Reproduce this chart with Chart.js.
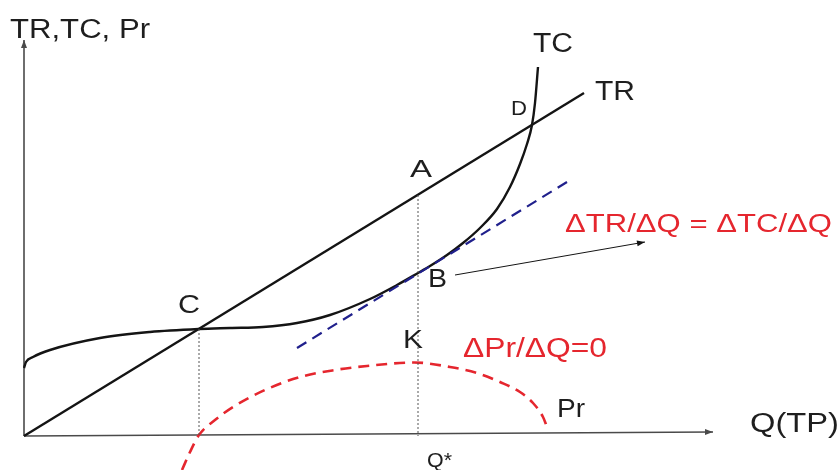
<!DOCTYPE html>
<html>
<head>
<meta charset="utf-8">
<script src="https://cdn.jsdelivr.net/npm/chart.js@4"></script>
<style>
html,body{margin:0;padding:0;background:#fff;}
#c{display:block;}
</style>
</head>
<body>
<canvas id="c" width="839" height="470"></canvas>
<script>
// ===== curves (Q, money) =====
const TR_Q = [0, 56.0];
const TR_V = [0, 34.3];
const TC_Q = [0, 0.2, 0.9, 2.6, 7.6, 12.6, 17.5, 20.6, 23.9, 27.3, 30.6, 34.6, 37.3, 39.4, 40.6, 42.3, 43.9, 45.6, 47.3, 48.6, 49.6, 50.3, 50.8, 51.1, 51.4];
const TC_V = [6.8, 7.4, 7.9, 8.6, 9.8, 10.4, 10.7, 10.8, 10.9, 11.3, 12.1, 13.7, 15.1, 16.3, 17.0, 18.1, 19.3, 20.8, 22.7, 24.9, 27.2, 29.2, 31.1, 33.3, 36.9];
const PR_Q = [15.8, 16.6, 17.5, 19.1, 20.9, 24.1, 27.6, 31.1, 34.3, 39.0, 42.6, 45.3, 47.6, 49.6, 50.9, 51.9, 52.3];
const PR_V = [-3.4, -1.6, 0.1, 1.6, 2.9, 4.6, 5.9, 6.6, 7.0, 7.35, 6.9, 6.3, 5.4, 4.4, 3.3, 1.9, 0.9];
// tangent at B (parallel to TR)
const TAN_Q = [27.3, 54.3];
const TAN_V = [8.8, 25.4];
// guide points: C, A/B/K (Q*)
const Q_C = 17.5, V_C = 10.7;
const Q_STAR = 39.4, V_A = 24.1;
// pointer from B to the marginal condition label
const PTR_Q = [43.1, 62.1];
const PTR_V = [16.1, 19.4];

const C = {ink:'#141414', axis:'#4a4a4a', red:'#e5262e', navy:'#20208c', text:'#1e1e1e'};
const pts = (xs, ys) => xs.map((x, i) => ({x, y: ys[i]}));

// text labels: left edge + baseline in data units, width in px
const LABELS = [
  {t:'TR,TC, Pr', x:-1.4, y:39.8, s:27, w:140, c:C.text},
  {t:'TC', x:50.9, y:38.4, s:27, w:40, c:C.text},
  {t:'TR', x:57.1, y:33.6, s:27, w:40, c:C.text},
  {t:'D', x:48.7, y:32.1, s:21, w:16, c:C.text},
  {t:'A', x:38.6, y:25.9, s:24, w:22, c:C.text},
  {t:'B', x:40.4, y:14.9, s:25, w:19, c:C.text},
  {t:'C', x:15.4, y:12.3, s:25, w:22, c:C.text},
  {t:'K', x:37.9, y:8.8, s:25, w:20, c:C.text},
  {t:'ΔPr/ΔQ=0', x:43.9, y:7.9, s:27, w:144, c:C.red},
  {t:'Pr', x:53.3, y:1.9, s:26, w:28, c:C.text},
  {t:'Q(TP)', x:72.6, y:0.4, s:27, w:89, c:C.text},
  {t:'Q*', x:40.3, y:-3.1, s:21, w:25, c:C.text},
  {t:'ΔTR/ΔQ = ΔTC/ΔQ', x:54.1, y:20.4, s:26, w:267, c:C.red}
];

function arrowHead(ctx, x1, y1, x2, y2, len, half){
  const a = Math.atan2(y2 - y1, x2 - x1);
  ctx.beginPath();
  ctx.moveTo(x2, y2);
  ctx.lineTo(x2 - len*Math.cos(a) + half*Math.sin(a), y2 - len*Math.sin(a) - half*Math.cos(a));
  ctx.lineTo(x2 - len*Math.cos(a) - half*Math.sin(a), y2 - len*Math.sin(a) + half*Math.cos(a));
  ctx.closePath();
  ctx.fill();
}

const decor = {
  id:'decor',
  beforeDatasetsDraw(chart){
    const {ctx, scales:{x, y}} = chart;
    const X = v => x.getPixelForValue(v), Y = v => y.getPixelForValue(v);
    ctx.save();
    ctx.strokeStyle = C.axis; ctx.fillStyle = C.axis; ctx.lineWidth = 1.6;
    // y axis
    ctx.beginPath(); ctx.moveTo(X(0), Y(0)); ctx.lineTo(X(0), Y(39.6)); ctx.stroke();
    arrowHead(ctx, X(0), Y(0), X(0), Y(39.6), 8, 3);
    // x axis
    ctx.beginPath(); ctx.moveTo(X(0), Y(0)); ctx.lineTo(X(68.9), Y(0.4)); ctx.stroke();
    arrowHead(ctx, X(0), Y(0), X(68.9), Y(0.4), 8, 3);
    ctx.restore();
  },
  afterDatasetsDraw(chart){
    const {ctx, scales:{x, y}} = chart;
    const X = v => x.getPixelForValue(v), Y = v => y.getPixelForValue(v);
    ctx.save();
    ctx.fillStyle = C.ink;
    arrowHead(ctx, X(PTR_Q[0]), Y(PTR_V[0]), X(PTR_Q[1]), Y(PTR_V[1]), 8, 3);
    ctx.textBaseline = 'alphabetic';
    ctx.textAlign = 'left';
    LABELS.forEach(l => {
      ctx.font = l.s + 'px "Liberation Sans", Arial, sans-serif';
      const m = ctx.measureText(l.t).width;
      ctx.save();
      ctx.translate(X(l.x), Y(l.y));
      ctx.scale(l.w / m, 1);
      ctx.fillStyle = l.c;
      ctx.fillText(l.t, 0, 0);
      ctx.restore();
    });
    ctx.restore();
  }
};

new Chart(document.getElementById('c'), {
  type:'line',
  data:{datasets:[
    {data:pts([Q_C, Q_C], [V_C, 0]), borderColor:'#555', borderWidth:1, borderDash:[2,2]},
    {data:pts([Q_STAR, Q_STAR], [V_A, 0]), borderColor:'#555', borderWidth:1, borderDash:[2,2]},
    {data:pts(PR_Q, PR_V), borderColor:C.red, borderWidth:2.6, borderDash:[11,7], cubicInterpolationMode:'monotone'},
    {data:pts(TAN_Q, TAN_V), borderColor:C.navy, borderWidth:2.2, borderDash:[11,7]},
    {data:pts(TR_Q, TR_V), borderColor:C.ink, borderWidth:2.4},
    {data:pts(TC_Q, TC_V), borderColor:C.ink, borderWidth:2.4, cubicInterpolationMode:'monotone'},
    {data:pts(PTR_Q, PTR_V), borderColor:C.ink, borderWidth:1}
  ]},
  options:{
    responsive:false, animation:false,
    layout:{padding:0},
    elements:{point:{radius:0}, line:{fill:false}},
    plugins:{legend:{display:false}, tooltip:{enabled:false}},
    scales:{
      x:{type:'linear', min:-2.4, max:81.5, display:false},
      y:{type:'linear', min:-3.4, max:43.6, display:false}
    }
  },
  plugins:[decor]
});
</script>
</body>
</html>
